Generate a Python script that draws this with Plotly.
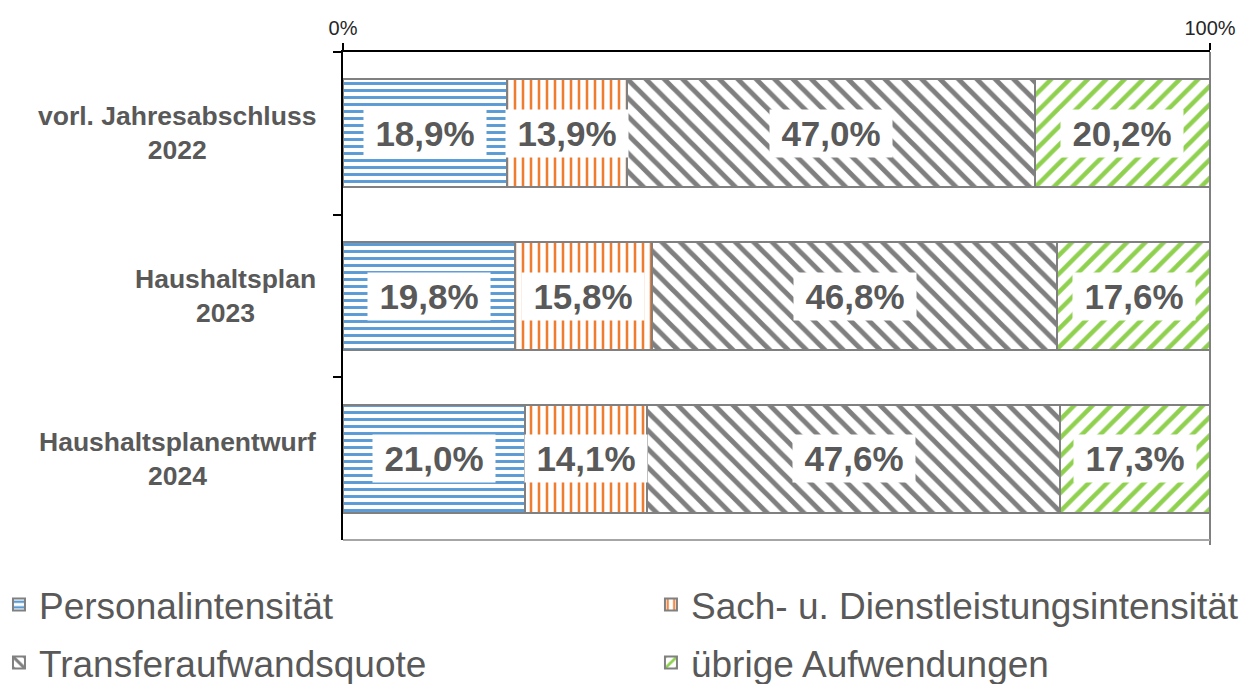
import plotly.graph_objects as go

categories = ["vorl. Jahresabschluss<br>2022", "Haushaltsplan<br>2023", "Haushaltsplanentwurf<br>2024"]
series_names = ["Personalintensität", "Sach- u. Dienstleistungsintensität", "Transferaufwandsquote", "übrige Aufwendungen"]
personal = [18.9, 19.8, 21.0]
sach = [13.9, 15.8, 14.1]
transfer = [47.0, 46.8, 47.6]
uebrige = [20.2, 17.6, 17.3]
x_tick_vals = [0, 100]
x_tick_text = ["0%", "100%"]

colors = ["#5B9BD5", "#ED7D31", "#7F7F7F", "#8FD14F"]
shapes_p = ["-", "|", "\\", "/"]
sizes_p = [7, 8, 13, 13]
solid_p = [0.42, 0.32, 0.38, 0.35]
legend_ids = ["legend", "legend2", "legend3", "legend4"]

series = [personal, sach, transfer, uebrige]
FONT = "Liberation Sans, Arial, sans-serif"
TXT = "#595959"

fig = go.Figure()
for i, (name, vals) in enumerate(zip(series_names, series)):
    fig.add_trace(go.Bar(
        y=categories, x=vals, name=name, orientation="h",
        marker=dict(
            color=colors[i],
            line=dict(color="#808080", width=2),
            pattern=dict(shape=shapes_p[i], fgcolor=colors[i], bgcolor="white",
                         size=sizes_p[i], solidity=solid_p[i], fillmode="replace"),
        ),
        legend=legend_ids[i],
        showlegend=True,
        hoverinfo="skip",
    ))

annotations = []
for ci, cat in enumerate(categories):
    cum = 0
    for vals in series:
        v = vals[ci]
        annotations.append(dict(
            x=cum + v / 2, y=cat, xref="x", yref="y",
            text=f"{v:.1f}%".replace(".", ","),
            showarrow=False, bgcolor="white", width=122, height=47, borderpad=0,
            font=dict(family=FONT, size=35, color=TXT, weight="bold"),
        ))
        cum += v
    annotations.append(dict(
        x=0, y=cat, xref="paper", yref="y", xanchor="right", xshift=-25,
        text=cat, showarrow=False, align="center",
        font=dict(family=FONT, size=26.5, color=TXT, weight="bold"),
    ))

leg_common = dict(orientation="h", xanchor="left", yanchor="middle", visible=True,
                  font=dict(family=FONT, size=37, color=TXT), bgcolor="rgba(0,0,0,0)")
col_x = [-0.3968, 0.3552]
row_y = [-0.1332, -0.2520]

fig.update_layout(
    width=1251, height=684,
    showlegend=True,
    margin=dict(l=343, r=41, t=52, b=144, autoexpand=False),
    paper_bgcolor="white", plot_bgcolor="white",
    barmode="stack", bargap=0.336,
    font=dict(family=FONT, color=TXT),
    annotations=annotations,
    xaxis=dict(side="top", range=[0, 100], tickvals=x_tick_vals, ticktext=x_tick_text,
               showgrid=False, zeroline=False, showline=True, linecolor="black", linewidth=1.5,
               ticks="outside", ticklen=7, tickcolor="black", tickwidth=1.5,
               tickfont=dict(family=FONT, size=20, color="#262626")),
    yaxis=dict(autorange="reversed", showticklabels=False, tickson="boundaries",
               ticks="outside", ticklen=8, tickcolor="black", tickwidth=1.5,
               showline=True, linecolor="black", linewidth=1.5, showgrid=False, zeroline=False),
    legend=dict(x=col_x[0], y=row_y[0], **leg_common),
    legend2=dict(x=col_x[1], y=row_y[0], **leg_common),
    legend3=dict(x=col_x[0], y=row_y[1], **leg_common),
    legend4=dict(x=col_x[1], y=row_y[1], **leg_common),
    shapes=[
        dict(type="line", xref="paper", yref="paper", x0=1, x1=1, y0=-0.01, y1=1,
             line=dict(color="#808080", width=2)),
        dict(type="line", xref="paper", yref="paper", x0=0, x1=1, y0=0, y1=0,
             line=dict(color="#A6A6A6", width=2)),
    ],
)

fig.write_html("out.html")
